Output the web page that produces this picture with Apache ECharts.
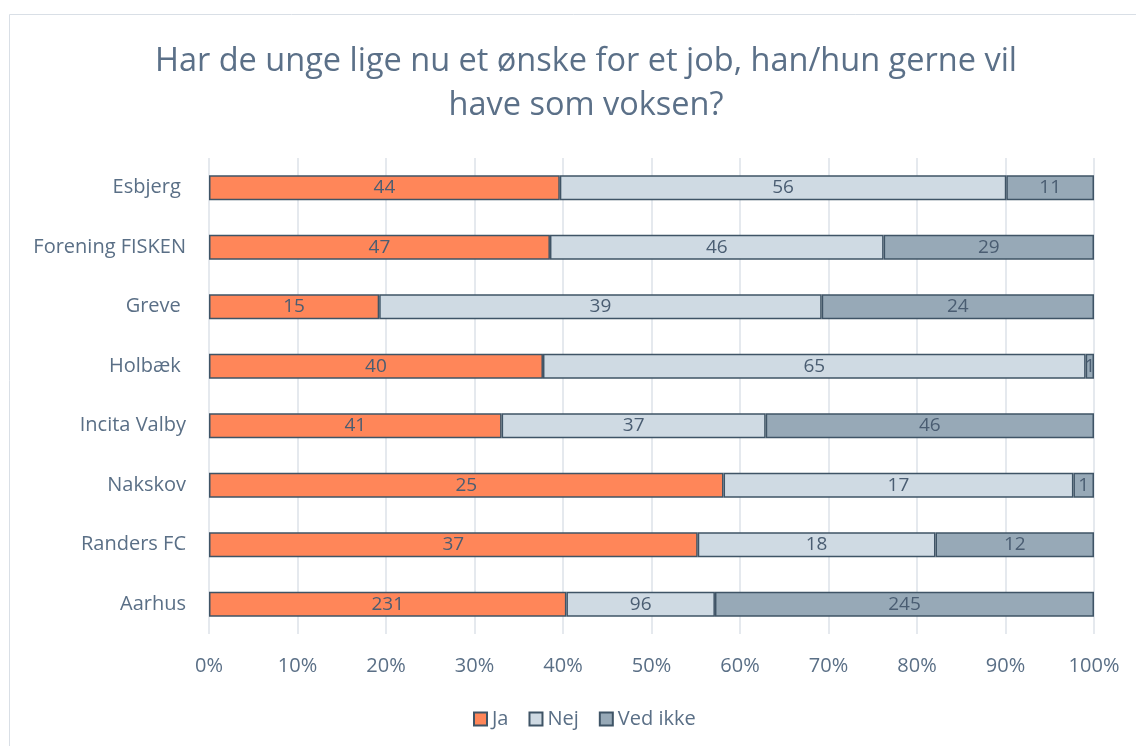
<!DOCTYPE html>
<html>
<head>
<meta charset="utf-8">
<script src="https://cdn.jsdelivr.net/npm/echarts@6/dist/echarts.min.js"></script>
<style>
  html, body { margin: 0; padding: 0; background: #fff; }
  #chart { width: 1136px; height: 746px; }
</style>
</head>
<body>
<div id="chart"></div>
<script>
// categories top to bottom
const categories = ['Esbjerg ', 'Forening FISKEN', 'Greve ', 'Holbæk ', 'Incita Valby', 'Nakskov', 'Randers FC', 'Aarhus']
const jaValues = [44, 47, 15, 40, 41, 25, 37, 231]
const nejValues = [56, 46, 39, 65, 37, 17, 18, 96]
const vedIkkeValues = [11, 29, 24, 1, 46, 1, 12, 245]
const xTicks = [0, 10, 20, 30, 40, 50, 60, 70, 80, 90, 100]

const totals = categories.map((_, i) => jaValues[i] + nejValues[i] + vedIkkeValues[i])
const toShare = arr => arr.map((v, i) => ({value: v / totals[i] * 100, raw: v}))

const textColor = '#5A6F86'
const borderColor = '#3F5466'

const makeSeries = (name, values, color) => ({
  name,
  type: 'bar',
  stack: 'total',
  barWidth: 25,
  data: toShare(values),
  itemStyle: {color, borderColor, borderWidth: 1.5},
  label: {
    show: true,
    position: 'inside',
    formatter: p => p.data.raw,
    color: '#4A5D72',
    fontSize: 19,
    fontFamily: 'Open Sans',
  },
})

const chart = echarts.init(document.getElementById('chart'))
chart.setOption({
  animation: false,
  graphic: [{
    type: 'rect',
    shape: {x: 9.5, y: 14.5, width: 1200, height: 800},
    style: {fill: 'none', stroke: '#D9DFE6', lineWidth: 1},
    silent: true,
  }],
  title: {
    text: 'Har de unge lige nu et ønske for et job, han/hun gerne vil\nhave som voksen?',
    left: 581,
    textAlign: 'center',
    top: 35,
    textStyle: {
      color: '#5B7088',
      fontSize: 32.5,
      fontWeight: 'normal',
      fontFamily: 'Open Sans',
      lineHeight: 44,
    },
  },
  legend: {
    data: ['Ja', 'Nej', 'Ved ikke'],
    bottom: 12,
    left: 468,
    icon: 'rect',
    itemWidth: 13,
    itemHeight: 13,
    itemGap: 20,
    textStyle: {color: textColor, fontSize: 20, fontFamily: 'Open Sans'},
  },
  grid: {left: 209, right: 42, top: 158, bottom: 112},
  xAxis: {
    type: 'value',
    min: 0,
    max: 100,
    interval: 10,
    axisLine: {show: false},
    axisTick: {show: false},
    splitLine: {lineStyle: {color: '#DCE2E8', width: 1.5}},
    axisLabel: {
      formatter: v => xTicks.includes(v) ? v + '%' : '',
      color: textColor,
      fontSize: 20,
      fontFamily: 'Open Sans',
      margin: 22,
    },
  },
  yAxis: {
    type: 'category',
    data: categories,
    inverse: true,
    axisLine: {show: false},
    axisTick: {show: false},
    axisLabel: {color: textColor, fontSize: 20, fontFamily: 'Open Sans', margin: 23},
  },
  series: [
    makeSeries('Ja', jaValues, '#FF8659'),
    makeSeries('Nej', nejValues, '#CFDAE3'),
    makeSeries('Ved ikke', vedIkkeValues, '#97A9B7'),
  ],
})
</script>
</body>
</html>
